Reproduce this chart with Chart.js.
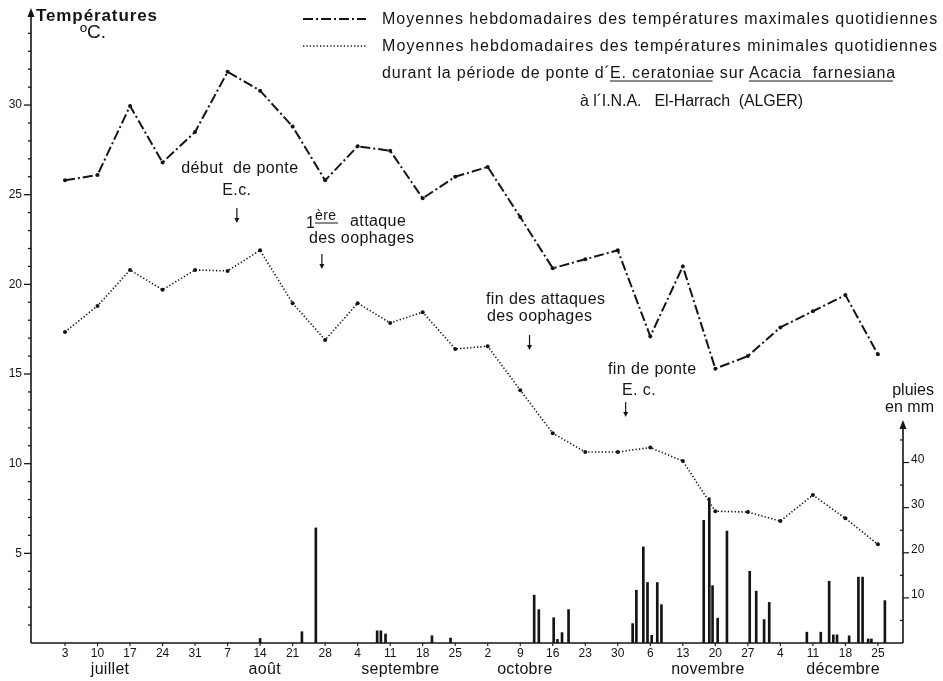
<!DOCTYPE html>
<html>
<head>
<meta charset="utf-8">
<script src="https://cdn.jsdelivr.net/npm/chart.js@4/dist/chart.umd.min.js"></script>
<style>
  html, body { margin: 0; padding: 0; background: #fff; }
  canvas { display: block; }
</style>
</head>
<body>
<canvas id="c" width="943" height="681"></canvas>
<script>
// Weekly readings, counted in days after 3 July
const weekDays = [0, 7, 14, 21, 28, 35, 42, 49, 56, 63, 70, 77, 84, 91, 98, 105, 112, 119, 126, 133, 140, 147, 154, 161, 168, 175];
const weekLabels = ['3', '10', '17', '24', '31', '7', '14', '21', '28', '4', '11', '18', '25', '2', '9', '16', '23', '30', '6', '13', '20', '27', '4', '11', '18', '25'];
const monthNames = ['juillet', 'août', 'septembre', 'octobre', 'novembre', 'décembre'];
const monthCentres = [9.7, 43, 72.2, 99, 138.4, 167.5];

// Weekly means of daily maximum / minimum temperatures (°C)
const tMax = [25.8, 26.1, 29.95, 26.8, 28.5, 31.85, 30.8, 28.8, 25.8, 27.7, 27.45, 24.8, 26.0, 26.55, 23.75, 20.9, 21.4, 21.9, 17.1, 21.0, 15.3, 16.0, 17.6, 18.5, 19.4, 16.1];
const tMin = [17.35, 18.8, 20.8, 19.7, 20.8, 20.75, 21.9, 18.95, 16.9, 18.95, 17.85, 18.45, 16.4, 16.55, 14.1, 11.7, 10.65, 10.65, 10.9, 10.15, 7.35, 7.3, 6.8, 8.25, 6.95, 5.5];

// Daily rainfall (mm), day counted after 3 July
const rainDays = [42, 51, 54, 67.2, 68, 69, 79, 83,
  101, 102, 105.2, 106, 107, 108.4,
  122.2, 123, 124.5, 125.4, 126.3, 127.5, 128.4,
  137.5, 138.7, 139.4, 140.5, 142.5, 147.4, 148.8, 150.5, 151.6,
  159.7, 162.7, 164.5, 165.4, 166.2, 168.8, 170.8, 171.7, 172.9, 173.6, 176.5];
const rainMm = [1.0, 2.5, 25.5, 2.7, 2.7, 2.0, 1.6, 1.1,
  10.6, 7.4, 5.6, 0.8, 2.3, 7.4,
  4.3, 11.7, 21.3, 13.4, 1.7, 13.4, 8.5,
  27.2, 32.2, 12.7, 5.5, 24.8, 15.9, 11.5, 5.2, 9.0,
  2.4, 2.4, 13.7, 1.8, 1.8, 1.6, 14.6, 14.6, 0.9, 0.9, 9.4];

const tempTicks = [5, 10, 15, 20, 25, 30];
const rainTicks = [10, 20, 30, 40];

const INK = '#141414';
const FONT = '"Liberation Sans", Arial, Helvetica, sans-serif';
const DASH_MAX = [10, 3, 2, 3];
const DASH_MIN = [1.3, 2.1];

function setFont(ctx, size, weight) {
  ctx.font = (weight || 'normal') + ' ' + size + 'px ' + FONT;
}

function spacing(ctx, px) {
  if ('letterSpacing' in ctx) ctx.letterSpacing = px + 'px';
}

// Text stretched to a given width with extra letter spacing
function spacedText(ctx, s, x, y, width) {
  ctx.save();
  spacing(ctx, 0);
  const w0 = ctx.measureText(s).width;
  if ('letterSpacing' in ctx && s.length > 1) {
    spacing(ctx, ((width - w0) / (s.length - 1)).toFixed(2));
    ctx.fillText(s, x, y);
  } else {
    ctx.translate(x, y);
    ctx.scale(width / w0, 1);
    ctx.fillText(s, 0, 0);
  }
  ctx.restore();
}

function seg(ctx, x1, y1, x2, y2) {
  ctx.beginPath(); ctx.moveTo(x1, y1); ctx.lineTo(x2, y2); ctx.stroke();
}

function arrowDown(ctx, x, y1, y2) {
  ctx.lineWidth = 1.2;
  seg(ctx, x, y1, x, y2 - 3);
  ctx.beginPath();
  ctx.moveTo(x - 2.5, y2 - 5); ctx.lineTo(x + 2.5, y2 - 5); ctx.lineTo(x, y2); ctx.closePath(); ctx.fill();
}

function arrowUp(ctx, x, y) {
  ctx.beginPath();
  ctx.moveTo(x - 3.5, y + 9); ctx.lineTo(x + 3.5, y + 9); ctx.lineTo(x, y); ctx.closePath(); ctx.fill();
}

const paperPlugin = {
  id: 'paper',
  afterDraw(chart) {
    const { ctx, chartArea: a, scales } = chart;
    const x = scales.x, y = scales.y, y2 = scales.y2;
    ctx.save();
    ctx.strokeStyle = INK; ctx.fillStyle = INK;
    ctx.lineCap = 'butt';

    // Temperature axis
    ctx.lineWidth = 1.6;
    seg(ctx, a.left, a.bottom, a.left, a.top + 6);
    arrowUp(ctx, a.left, a.top - 2);
    ctx.lineWidth = 1.3;
    for (let t = 1; t <= 34; t++) {
      const py = y.getPixelForValue(t);
      seg(ctx, a.left - (t % 5 === 0 ? 7 : 3), py, a.left, py);
    }
    setFont(ctx, 12);
    ctx.textAlign = 'right'; ctx.textBaseline = 'middle';
    tempTicks.forEach(t => ctx.fillText(String(t), a.left - 9, y.getPixelForValue(t)));

    // Time axis
    ctx.lineWidth = 1.6;
    seg(ctx, a.left, a.bottom, a.right, a.bottom);
    ctx.lineWidth = 1.1;
    ctx.textAlign = 'center'; ctx.textBaseline = 'middle';
    setFont(ctx, 12);
    weekDays.forEach((d, i) => {
      const px = x.getPixelForValue(d);
      seg(ctx, px, a.bottom, px, a.bottom + 3);
      ctx.fillText(weekLabels[i], px, a.bottom + 11);
    });
    setFont(ctx, 16);
    spacing(ctx, 0.3);
    monthNames.forEach((m, i) => ctx.fillText(m, x.getPixelForValue(monthCentres[i]), a.bottom + 27));
    spacing(ctx, 0);

    // Rainfall axis
    const rTop = y2.getPixelForValue(49);
    ctx.lineWidth = 1.6;
    seg(ctx, a.right, a.bottom, a.right, rTop + 6);
    arrowUp(ctx, a.right, rTop - 2);
    ctx.lineWidth = 1.2;
    for (let r = 5; r <= 45; r += 5) {
      const py = y2.getPixelForValue(r);
      if (r % 10 === 0) seg(ctx, a.right, py, a.right + 6, py);
      else seg(ctx, a.right - 3, py, a.right, py);
    }
    setFont(ctx, 12);
    ctx.textAlign = 'left'; ctx.textBaseline = 'middle';
    rainTicks.forEach(r => ctx.fillText(String(r), a.right + 8, y2.getPixelForValue(r) - 3));
    setFont(ctx, 16);
    ctx.textAlign = 'right'; ctx.textBaseline = 'alphabetic';
    ctx.fillText('pluies', 934, rTop - 27);
    ctx.fillText('en mm', 934, rTop - 10);

    // Axis title
    ctx.textAlign = 'left';
    setFont(ctx, 17, 'bold');
    spacedText(ctx, 'Températures', 36, 21, 121);
    setFont(ctx, 19);
    ctx.fillText('ºC.', 80, 38);

    // Legend
    const lx1 = 303, lx2 = 366;
    ctx.lineWidth = 2;
    ctx.setLineDash(DASH_MAX);
    seg(ctx, lx1, 19, lx2, 19);
    ctx.lineWidth = 1.6;
    ctx.setLineDash(DASH_MIN);
    seg(ctx, lx1, 46, lx2, 46);
    ctx.setLineDash([]);
    setFont(ctx, 16);
    ctx.textBaseline = 'alphabetic';
    spacedText(ctx, 'Moyennes hebdomadaires des températures maximales quotidiennes', 382, 24, 555);
    spacedText(ctx, 'Moyennes hebdomadaires des températures minimales quotidiennes', 382, 51, 555);
    const l3 = ['durant la période de ponte d´', 'E. ceratoniae', ' sur ', 'Acacia  farnesiana'];
    const l3y = 78;
    const natural = l3.reduce((s, t) => s + ctx.measureText(t).width, 0);
    const k = 513 / natural;
    let cx = 382;
    l3.forEach((s, i) => {
      const w = ctx.measureText(s).width * k;
      spacedText(ctx, s, cx, l3y, w);
      if (i === 1 || i === 3) { ctx.lineWidth = 1; seg(ctx, cx, l3y + 3, cx + w - 2, l3y + 3); }
      cx += w;
    });
    spacedText(ctx, 'à l´I.N.A.   El-Harrach  (ALGER)', 580, 106, 223);

    // Notes on the egg-laying period
    setFont(ctx, 16);
    ctx.textAlign = 'center';
    spacing(ctx, 0.4);
    let px = x.getPixelForValue(37);
    ctx.fillText('début  de ponte', px + 3, 173);
    ctx.fillText('E.c.', px, 195);
    arrowDown(ctx, px, 208, 223);

    px = x.getPixelForValue(55.3);
    ctx.textAlign = 'left';
    ctx.fillText('1', 306, 228);
    setFont(ctx, 14);
    ctx.fillText('ère', 315, 220);
    ctx.lineWidth = 1; seg(ctx, 315, 223, 338, 223);
    setFont(ctx, 16);
    ctx.fillText('attaque', 350, 226);
    ctx.fillText('des oophages', 309, 243);
    arrowDown(ctx, px, 254, 269);

    px = x.getPixelForValue(100);
    ctx.fillText('fin des attaques', 486, 304);
    ctx.fillText('des oophages', 487, 321);
    arrowDown(ctx, px, 335, 350);

    px = x.getPixelForValue(120.7);
    ctx.fillText('fin de ponte', 608, 374);
    ctx.fillText('E. c.', 622, 395);
    arrowDown(ctx, px, 402, 417);
    spacing(ctx, 0);

    ctx.restore();
  }
};

const pts = vals => weekDays.map((d, i) => ({ x: d, y: vals[i] }));

new Chart(document.getElementById('c'), {
  data: {
    datasets: [
      {
        type: 'line', label: 'tMax', data: pts(tMax), yAxisID: 'y',
        borderColor: INK, borderWidth: 2, borderDash: DASH_MAX,
        pointRadius: 2, pointBackgroundColor: INK, pointBorderWidth: 0,
        tension: 0, fill: false, clip: false
      },
      {
        type: 'line', label: 'tMin', data: pts(tMin), yAxisID: 'y',
        borderColor: INK, borderWidth: 1.6, borderDash: DASH_MIN,
        pointRadius: 2, pointBackgroundColor: INK, pointBorderWidth: 0,
        tension: 0, fill: false, clip: false
      },
      {
        type: 'bar', label: 'pluie', yAxisID: 'y2',
        data: rainDays.map((d, i) => ({ x: d, y: rainMm[i] })),
        backgroundColor: INK, borderWidth: 0, barThickness: 2, grouped: false
      }
    ]
  },
  options: {
    responsive: false,
    devicePixelRatio: 1,
    animation: false,
    events: [],
    layout: { padding: { left: 31, right: 40, top: 10, bottom: 38 } },
    plugins: { legend: { display: false }, tooltip: { enabled: false } },
    scales: {
      x: { type: 'linear', min: -7.32, max: 180.4, display: false, offset: false },
      y: { type: 'linear', min: 0, max: 35.3, display: false },
      y2: { type: 'linear', min: 0, max: 140.3, display: false }
    }
  },
  plugins: [paperPlugin]
});
</script>
</body>
</html>
